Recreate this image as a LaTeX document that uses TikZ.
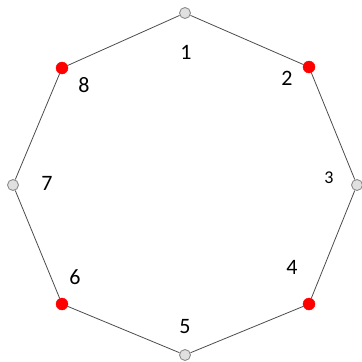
\documentclass[tikz,border=0pt]{standalone}
\usepackage{fontspec}
\setmainfont{Carlito}
\usepackage{tikz}
\begin{document}
\begin{tikzpicture}[
  x=1pt, y=-1pt,
  grayv/.style={circle, draw=black!45, fill=black!12, line width=0.9pt, minimum size=11pt, inner sep=0pt},
  redv/.style={circle, draw=red, fill=red, minimum size=12pt, inner sep=0pt},
  edge/.style={draw=black!70, line width=0.8pt},
  lbl/.style={font=\fontsize{22}{22}\selectfont, inner sep=0pt},
]
\useasboundingbox (0,0) rectangle (362,362);
% octagon corners
\node[grayv] (v1) at (185,13) {};
\node[redv]  (v2) at (309,67) {};
\node[grayv] (v3) at (357,185) {};
\node[redv]  (v4) at (309,304) {};
\node[grayv] (v5) at (185,355) {};
\node[redv]  (v6) at (62,304) {};
\node[grayv] (v7) at (13,185) {};
\node[redv]  (v8) at (62,68) {};
\draw[edge] (v1) -- (v2) -- (v3) -- (v4) -- (v5) -- (v6) -- (v7) -- (v8) -- (v1);
% labels
\node[lbl] (n1) at (186,52) {1};
\node[lbl] (n2) at (287,78) {2};
\node[lbl, font=\fontsize{18}{18}\selectfont] (n3) at (329,178) {3};
\node[lbl] (n4) at (292,267) {4};
\node[lbl] (n5) at (185,327) {5};
\node[lbl] (n6) at (75,277) {6};
\node[lbl] (n7) at (47,183) {7};
\node[lbl] (n8) at (84,85) {8};
\end{tikzpicture}
\end{document}
